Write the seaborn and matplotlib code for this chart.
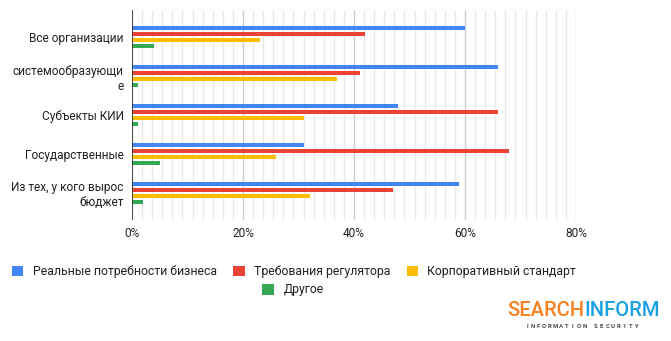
import matplotlib
matplotlib.use("Agg")
import matplotlib.pyplot as plt
from matplotlib.ticker import MultipleLocator, FuncFormatter
from matplotlib.patches import Rectangle
import pandas as pd
import seaborn as sns

categories = [
    "Все организации",
    "системообразующи\nе",
    "Субъекты КИИ",
    "Государственные",
    "Из тех, у кого вырос\nбюджет",
]
series_names = [
    "Реальные потребности бизнеса",
    "Требования регулятора",
    "Корпоративный стандарт",
    "Другое",
]
business_needs = [60, 66, 48, 31, 59]
regulator = [42, 41, 66, 68, 47]
corporate = [23, 37, 31, 26, 32]
other = [4, 1, 1, 5, 2]
x_ticks = [0, 20, 40, 60, 80]

colors = ["#4285F4", "#EA4335", "#FBBC04", "#34A853"]

rows = []
for name, vals in zip(series_names, [business_needs, regulator, corporate, other]):
    for cat, v in zip(categories, vals):
        rows.append({"category": cat, "series": name, "value": v})
df = pd.DataFrame(rows)

sns.set_theme(style="white")
plt.rcParams["font.family"] = ["Roboto", "DejaVu Sans"]

fig = plt.figure(figsize=(6.71, 3.41), dpi=100)
W, H = 671, 341
ax = fig.add_axes([132 / W, 1 - 220 / H, (576 - 132) / W, (220 - 10) / H])

sns.barplot(
    data=df, y="category", x="value", hue="series",
    order=categories, hue_order=series_names, palette=colors,
    orient="h", width=0.62, gap=0.33, legend=False, ax=ax,
    saturation=1, linewidth=0,
)

ax.set_xlim(0, 80)
ax.set_ylim(4.7, -0.7)
ax.set_xticks(x_ticks)
ax.xaxis.set_minor_locator(MultipleLocator(20 / 11))
ax.xaxis.set_major_formatter(FuncFormatter(lambda v, p: f"{v:.0f}%"))
ax.grid(axis="x", which="major", color="#cccccc", linewidth=1)
ax.grid(axis="x", which="minor", color="#e8e8e8", linewidth=1)
ax.grid(axis="y", visible=False)
ax.set_axisbelow(True)
ax.axvline(0, color="#333333", linewidth=1.2, zorder=5)
for s in ax.spines.values():
    s.set_visible(False)
ax.set_xlabel("")
ax.set_ylabel("")
ax.tick_params(axis="both", which="both", length=0, labelsize=8.6, colors="#222222")
ax.tick_params(axis="x", pad=5)
ax.tick_params(axis="y", pad=6)

# legend: three entries on the first row, one centred on the second
handles = [Rectangle((0, 0), 1, 1, facecolor=c, edgecolor="none") for c in colors]
legend_kw = dict(loc="center", frameon=False, fontsize=8.8, handlelength=0.95,
                 handleheight=0.95, handletextpad=0.75, columnspacing=1.35,
                 borderpad=0, borderaxespad=0)
leg1 = fig.legend(handles[:3], series_names[:3], ncol=3,
                  bbox_to_anchor=(294 / W, 1 - 271.5 / H), **legend_kw)
leg2 = fig.legend(handles[3:], series_names[3:], ncol=1,
                  bbox_to_anchor=(293 / W, 1 - 290 / H), **legend_kw)
for leg in (leg1, leg2):
    for t in leg.get_texts():
        t.set_color("#222222")

# company logo
fig.text(584 / W, 1 - 311 / H, "SEARCH", ha="right", va="center",
         fontsize=14.5, color="#F58220", fontweight="medium")
fig.text(584 / W, 1 - 311 / H, "INFORM", ha="left", va="center",
         fontsize=14.5, color="#1BA1E2", fontweight="medium")
tagline = "INFORMATION SECURITY"
step = (636 - 527) / (len(tagline) - 1)
for i, ch in enumerate(tagline):
    fig.text((527 + i * step) / W, 1 - 326 / H, ch, ha="center", va="center",
             fontsize=4.3, color="#444444", fontweight="bold")

fig.savefig("out.png", dpi=100)
